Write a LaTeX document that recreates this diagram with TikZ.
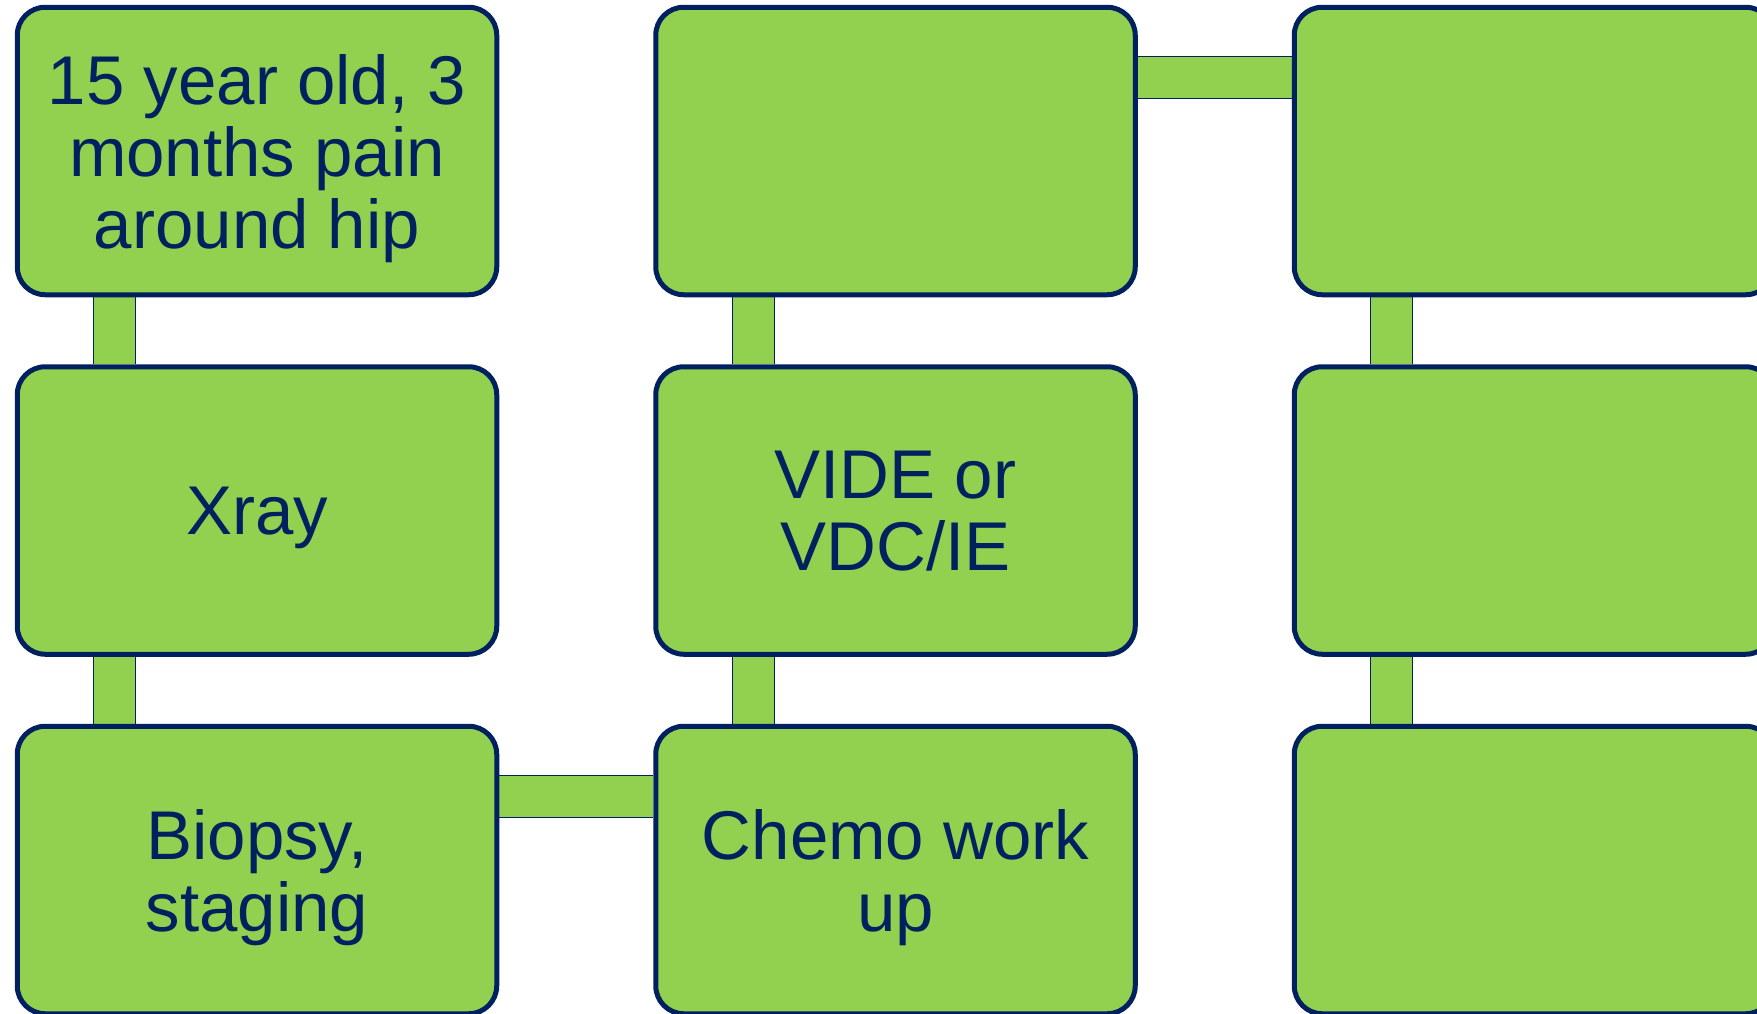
\documentclass[tikz,border=0pt]{standalone}
\usepackage{fontspec}
\setmainfont{Liberation Sans}
\usetikzlibrary{positioning,backgrounds}

\definecolor{leaf}{HTML}{92D050}
\definecolor{navy}{HTML}{002060}

\tikzset{
  stage/.style={draw=navy, line width=2.5pt, fill=leaf, rounded corners=14pt,
    minimum width=239.75pt, minimum height=143.75pt, align=center, text=navy,
    text depth=0pt, font=\fontsize{34.5}{36}\selectfont},
  link/.style={draw=navy, line width=0.5pt, double=leaf, double distance=20.5pt},
}

\begin{document}
\begin{tikzpicture}[node distance=33.5pt and 77pt]
\useasboundingbox (0,0) rectangle (878.5pt,-506.5pt);
\clip (0,0) rectangle (878.5pt,-506.5pt);
% first column, top to bottom
\node[stage] (pain) at (128.5pt,-75.5pt) {15 year old, 3\\months pain\\around hip};
\node[stage, below=of pain] (xray) {Xray};
\node[stage, below=of xray] (biopsy) {Biopsy,\\staging};
% second column, bottom to top
\node[stage, right=of biopsy] (workup) {Chemo work\\up};
\node[stage, above=of workup] (chemo) {VIDE or\\VDC/IE};
\node[stage, above=of chemo] (stepA) {};
% third column, top to bottom
\node[stage, right=of stepA] (stepB) {};
\node[stage, below=of stepB] (stepC) {};
\node[stage, below=of stepC] (stepD) {};
\begin{scope}[on background layer]
\draw[link] ([xshift=49.875pt]pain.south west) -- ([xshift=49.875pt]xray.north west);
\draw[link] ([xshift=49.875pt]xray.south west) -- ([xshift=49.875pt]biopsy.north west);
\draw[link] ([yshift=-36.375pt]biopsy.north east) -- ([yshift=-36.375pt]workup.north west);
\draw[link] ([xshift=49.875pt]workup.north west) -- ([xshift=49.875pt]chemo.south west);
\draw[link] ([xshift=49.875pt]chemo.north west) -- ([xshift=49.875pt]stepA.south west);
\draw[link] ([yshift=-36.375pt]stepA.north east) -- ([yshift=-36.375pt]stepB.north west);
\draw[link] ([xshift=49.875pt]stepB.south west) -- ([xshift=49.875pt]stepC.north west);
\draw[link] ([xshift=49.875pt]stepC.south west) -- ([xshift=49.875pt]stepD.north west);
\end{scope}
\end{tikzpicture}
\end{document}
